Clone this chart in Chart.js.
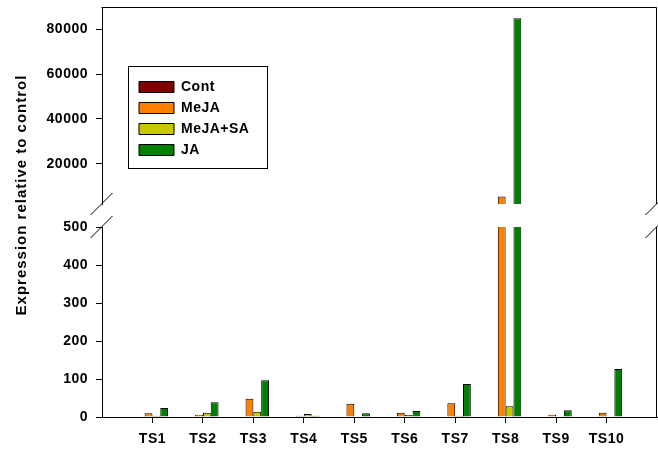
<!DOCTYPE html>
<html>
<head>
<meta charset="utf-8">
<title>Expression relative to control</title>
<script src="https://cdn.jsdelivr.net/npm/chart.js@4.4.1/dist/chart.umd.min.js"></script>
<style>
  html, body { margin: 0; padding: 0; background: #fff; }
</style>
</head>
<body>
<canvas id="expression-chart" width="658" height="450"></canvas>
<script>

// DATA

const categories = ['TS1', 'TS2', 'TS3', 'TS4', 'TS5', 'TS6', 'TS7', 'TS8', 'TS9', 'TS10'];

const contValues = [1, 1, 1, 1, 1, 1, 1, 1, 1, 1];
const mejaValues = [10, 6, 48, 3, 35, 11, 36, 5300, 6, 11];
const mejaSaValues = [3, 11, 14, 8, 1, 5, 3, 28, 2, 1];
const jaValues = [24, 39, 97, 3, 10, 16, 87, 85000, 18, 126];

const lowTicks = [0, 100, 200, 300, 400, 500];
const highTicks = [20000, 40000, 60000, 80000];

const seriesNames = ['Cont', 'MeJA', 'MeJA+SA', 'JA'];
const seriesColors = ['#800000', '#FF8000', '#C8C800', '#008000'];
const seriesValues = [contValues, mejaValues, mejaSaValues, jaValues];

// blank slot at each end so TS1 and TS10 sit one step in from the frame
const xLabels = ['', ...categories, ''];
const padEnds = values => [null, ...values, null];

const fontFamily = 'Arial, "Liberation Sans", sans-serif';
const boldFont = { family: fontFamily, size: 14, weight: 'bold' };

// every series is drawn twice, once per axis segment; the shared
// stack name keeps both copies in the same slot of the group
function makeDataset(i, axisId) {
    return {
        label: seriesNames[i],
        data: padEnds(seriesValues[i]),
        yAxisID: axisId,
        stack: 'series' + i,
        backgroundColor: seriesColors[i],
        borderColor: '#000',
        borderWidth: 1,
        categoryPercentage: 0.62,
        barPercentage: 1,
        clip: 0
    };
}

const datasets = [];
seriesNames.forEach((name, i) => datasets.push(makeDataset(i, 'yLow')));
seriesNames.forEach((name, i) => datasets.push(makeDataset(i, 'yHigh')));


/* AXES */

const tickGrid = {
    display: true,
    drawOnChartArea: false,
    tickLength: 6,
    tickColor: '#000',
    color: '#000'
};

const plainLabel = value => String(value);

// labels may hang over the frame edges, so drop the extra padding
// the scales ask for around the plot
function noEdgePadding(scale) {
    scale.paddingTop = 0;
    scale.paddingBottom = 0;
    scale.paddingLeft = 0;
    scale.paddingRight = 0;
}

const scales = {
    x: {
        type: 'category',
        offset: false,
        afterFit: scale => {
            noEdgePadding(scale);
            scale.height = 31;
        },
        grid: {
            display: true,
            drawOnChartArea: false,
            offset: false,
            tickLength: 6,
            color: '#000',
            tickColor: ctx => (ctx.tick && ctx.tick.label) ? '#000' : 'rgba(0,0,0,0)'
        },
        border: { color: '#000', width: 1 },
        ticks: { color: '#000', font: boldFont, padding: 8, autoSkip: false, maxRotation: 0 }
    },
    yHigh: {
        type: 'linear',
        position: 'left',
        stack: 'left',
        stackWeight: 197,
        weight: 3,
        stacked: false,
        min: 2000,
        max: 90000,
        afterBuildTicks: scale => { scale.ticks = highTicks.map(v => ({ value: v })); },
        afterFit: noEdgePadding,
        grid: tickGrid,
        border: { color: '#000', width: 1 },
        ticks: { color: '#000', font: boldFont, padding: 8, callback: plainLabel }
    },
    yGap: {
        type: 'linear',
        position: 'left',
        stack: 'left',
        stackWeight: 23,
        weight: 2,
        grid: { display: false },
        border: { display: false },
        ticks: { display: false },
        // reserves the room for the tick labels and the axis title
        afterFit: scale => { scale.width = 102; }
    },
    yLow: {
        type: 'linear',
        position: 'left',
        stack: 'left',
        stackWeight: 190,
        weight: 1,
        stacked: false,
        min: 0,
        max: 500,
        afterBuildTicks: scale => { scale.ticks = lowTicks.map(v => ({ value: v })); },
        afterFit: noEdgePadding,
        grid: tickGrid,
        border: { color: '#000', width: 1 },
        ticks: { color: '#000', font: boldFont, padding: 8, callback: plainLabel }
    }
};


/* FRAME, BREAK MARKS, LEGEND BOX, AXIS TITLE */

const axisBreak = {
    id: 'axisBreak',
    beforeUpdate(chart) {
        chart.ctx.letterSpacing = '0.5px';
    },
    beforeDraw(chart) {
        chart.ctx.letterSpacing = '0.5px';
    },
    afterLayout(chart) {
        // park the legend in the empty upper left of the plot
        const lg = chart.legend;
        const area = chart.chartArea;
        lg.left = area.left + 30;
        lg.top = area.top + 66;
        lg.width = 130;
        lg.height = 96;
        lg.right = lg.left + lg.width;
        lg.bottom = lg.top + lg.height;
    },
    afterDraw(chart) {
        const ctx = chart.ctx;
        const area = chart.chartArea;
        const high = chart.scales.yHigh;
        const low = chart.scales.yLow;
        const top = Math.floor(area.top) + 0.5;
        const right = Math.round(area.right) - 0.5;
        const left = Math.round(area.left) - 0.5;

        ctx.save();
        ctx.strokeStyle = '#000';
        ctx.lineWidth = 1;

        // top edge and the broken right edge
        ctx.beginPath();
        ctx.moveTo(left, top);
        ctx.lineTo(right, top);
        ctx.lineTo(right, high.bottom);
        ctx.moveTo(right, low.top);
        ctx.lineTo(right, area.bottom);
        ctx.stroke();

        // slanted break marks on both sides
        ctx.beginPath();
        [left, right].forEach(x => {
            [high.bottom, low.top].forEach(y => {
                ctx.moveTo(x - 11, y + 11);
                ctx.lineTo(x + 11, y - 11);
            });
        });
        ctx.stroke();

        // legend border
        const lg = chart.legend;
        ctx.strokeRect(Math.round(lg.left) - 3.5, Math.round(lg.top) - 6.5, 139, 102);

        // axis title, a little above the middle of the frame
        ctx.fillStyle = '#000';
        ctx.font = 'bold 15px ' + fontFamily;
        ctx.letterSpacing = '1px';
        ctx.textAlign = 'center';
        ctx.textBaseline = 'middle';
        ctx.translate(area.left - 80.5, (area.top + area.bottom) / 2 - 17);
        ctx.rotate(-Math.PI / 2);
        ctx.fillText('Expression relative to control', 0, 0);
        ctx.restore();
    }
};


/* CHART */

const expressionCanvas = document.querySelector('#expression-chart');

const expressionChart = new Chart(expressionCanvas, {
    type: 'bar',
    data: {
        labels: xLabels,
        datasets: datasets
    },
    options: {
        responsive: false,
        animation: false,
        layout: {
            padding: { top: 7, right: 1, bottom: 2, left: 0 }
        },
        scales: scales,
        plugins: {
            tooltip: { enabled: false },
            legend: {
                position: 'chartArea',
                align: 'start',
                labels: {
                    boxWidth: 35,
                    boxHeight: 11,
                    padding: 7,
                    color: '#000',
                    font: boldFont,
                    filter: item => item.datasetIndex < seriesNames.length
                }
            }
        }
    },
    plugins: [axisBreak]
});
</script>
</body>
</html>
